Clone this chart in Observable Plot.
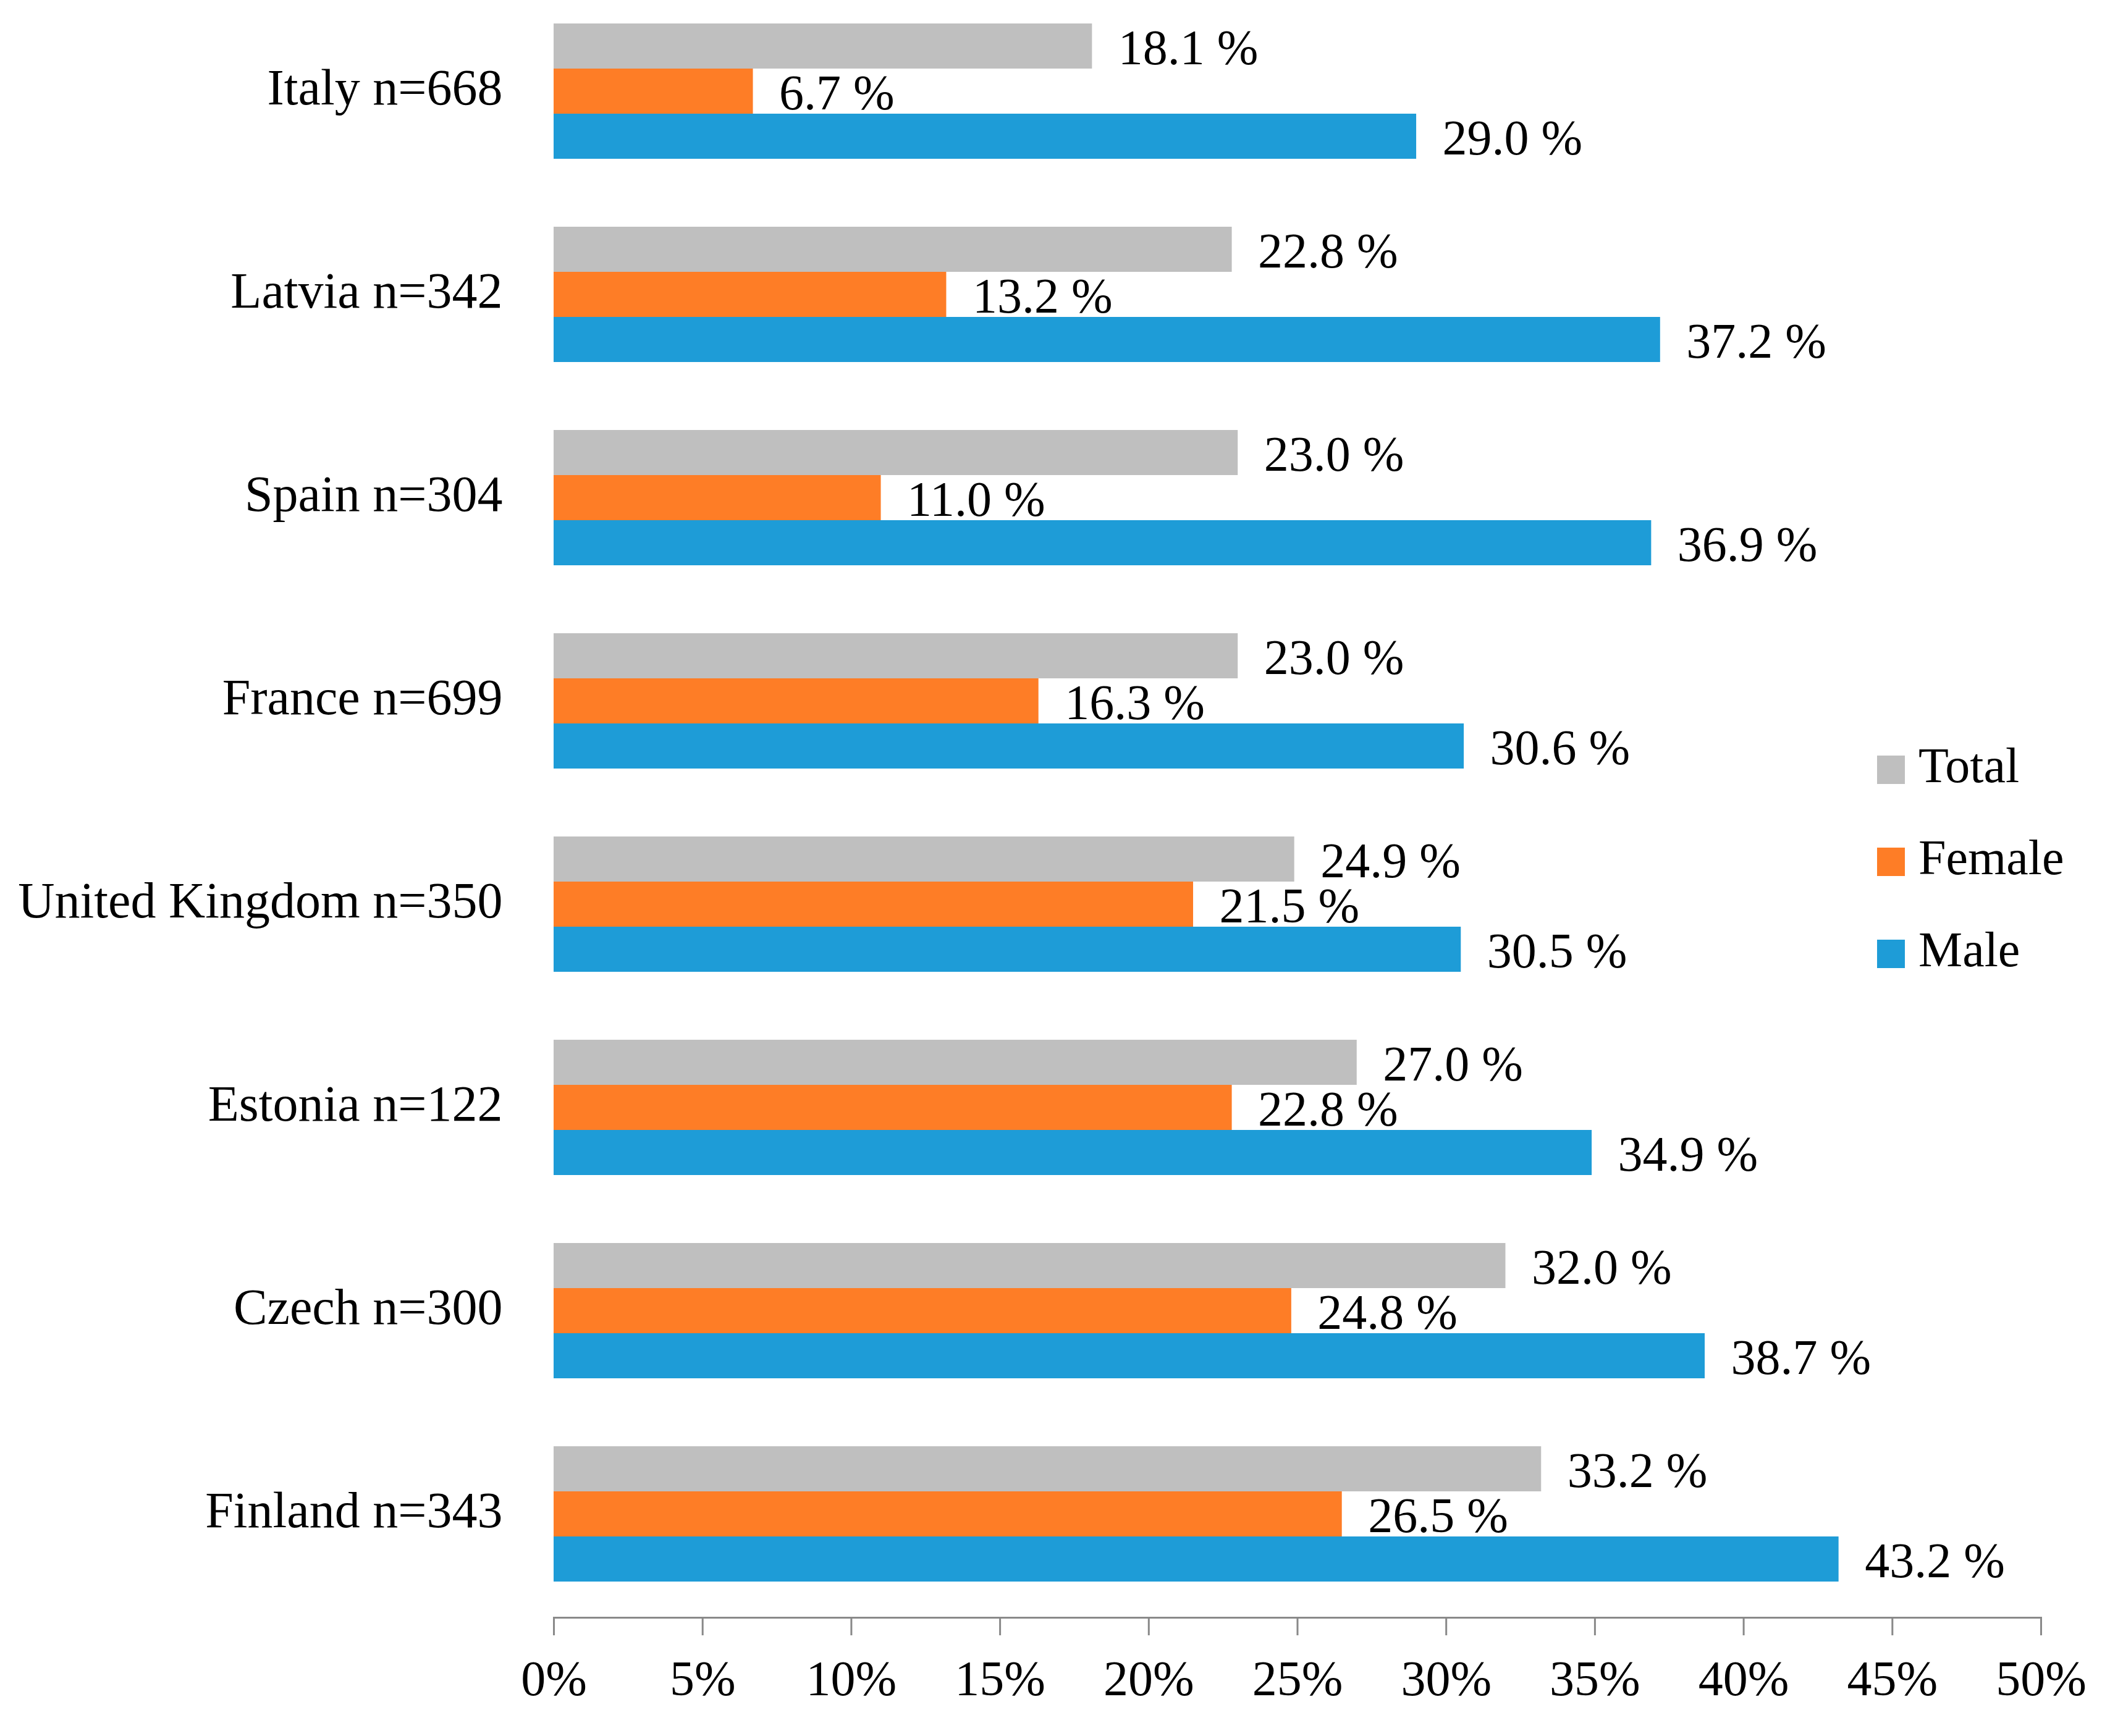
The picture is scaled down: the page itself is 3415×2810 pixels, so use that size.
<!DOCTYPE html>
<html>
<head>
<meta charset="utf-8">
<script src="https://cdn.jsdelivr.net/npm/d3@7"></script>
<script src="https://cdn.jsdelivr.net/npm/@observablehq/plot@0.6"></script>
<style>
  html, body { margin: 0; padding: 0; background: #fff; }
  #wrap { position: relative; width: 3415px; height: 2810px; font-family: "Liberation Serif", serif; }
  #legend { position: absolute; left: 3038px; top: 1195px; }
  .item { display: flex; align-items: flex-end; height: 74px; margin-bottom: 75px; }
  .sw { width: 45px; height: 46px; margin-right: 22px; margin-bottom: 0px; }
  .lab { font-size: 80px; line-height: 60px; color: #000; }
</style>
</head>
<body>
<div id="wrap"></div>
<script>
const countries = ["Italy n=668", "Latvia n=342", "Spain n=304", "France n=699", "United Kingdom n=350", "Estonia n=122", "Czech n=300", "Finland n=343"];
const series = ["Total", "Female", "Male"];
const totalValues  = [18.1, 22.8, 23.0, 23.0, 24.9, 27.0, 32.0, 33.2];
const femaleValues = [6.7, 13.2, 11.0, 16.3, 21.5, 22.8, 24.8, 26.5];
const maleValues   = [29.0, 37.2, 36.9, 30.6, 30.5, 34.9, 38.7, 43.2];
const xTicks = [0, 5, 10, 15, 20, 25, 30, 35, 40, 45, 50];
const colors = ["#bfbfbf", "#fe7d26", "#1e9cd7"];

const valuesBySeries = [totalValues, femaleValues, maleValues];
const rows = [];
countries.forEach((c, i) => {
  series.forEach((s, j) => rows.push({country: c, series: s, value: valuesBySeries[j][i]}));
});

const chart = Plot.plot({
  width: 3415,
  height: 2810,
  marginLeft: 896,
  marginRight: 112,
  marginTop: -17,
  marginBottom: 190,
  style: {fontFamily: "Liberation Serif, serif", background: "#fff", color: "#000"},
  x: {domain: [0, 50], axis: null},
  y: {domain: series, paddingInner: 0, paddingOuter: 0.7475, align: 0.47, axis: null},
  fy: {domain: countries, padding: 0, axis: null},
  color: {domain: series, range: colors},
  marks: [
    Plot.barX(rows, {x: "value", y: "series", fy: "country", fill: "series"}),
    Plot.text(rows, {
      x: "value", y: "series", fy: "country",
      text: d => d.value.toFixed(1) + " %",
      textAnchor: "start", dx: 42, dy: 3, fontSize: 80, fill: "#000"
    }),
    Plot.frame({anchor: "bottom", facetAnchor: "bottom", stroke: "#898989", strokeWidth: 3}),
    Plot.axisX({
      ticks: xTicks, tickFormat: d => d + "%", tickSize: 29, tickPadding: 40,
      stroke: "#898989", strokeWidth: 3, fill: "#000", fontSize: 80, label: null
    }),
    Plot.axisFy({
      anchor: "left", tickSize: 0, tickPadding: 83, fontSize: 82, fill: "#000",
      dy: -8, label: null
    })
  ]
});
const wrap = document.getElementById("wrap");
wrap.appendChild(chart);

const legend = document.createElement("div");
legend.id = "legend";
series.forEach((s, i) => {
  const item = document.createElement("div");
  item.className = "item";
  const sw = document.createElement("div");
  sw.className = "sw";
  sw.style.background = colors[i];
  const lab = document.createElement("div");
  lab.className = "lab";
  lab.textContent = s;
  item.appendChild(sw);
  item.appendChild(lab);
  legend.appendChild(item);
});
wrap.appendChild(legend);
</script>
</body>
</html>
